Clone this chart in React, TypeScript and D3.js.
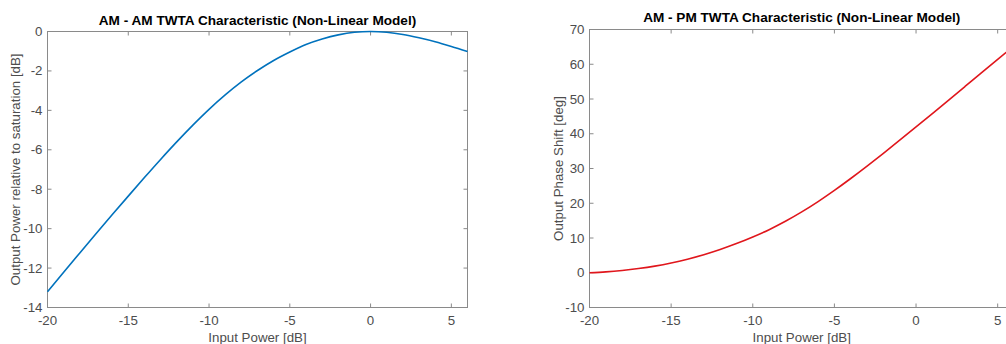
import React, { useEffect, useRef } from "react";
import * as d3 from "d3";

const inputPower = [-20, -19, -18, -17, -16, -15, -14, -13, -12, -11, -10, -9, -8, -7, -6, -5, -4, -3, -2, -1, 0, 1, 2, 3, 4, 5, 6];
const amamOutput = [-13.2, -12.21, -11.23, -10.26, -9.3, -8.35, -7.41, -6.49, -5.6, -4.75, -3.95, -3.22, -2.56, -1.98, -1.47, -1.04, -0.66, -0.38, -0.17, -0.04, 0, -0.04, -0.15, -0.32, -0.52, -0.76, -1.02];
const ampmPhase = [0, 0.25, 0.65, 1.2, 1.9, 2.8, 3.9, 5.2, 6.7, 8.4, 10.3, 12.4, 14.8, 17.5, 20.48, 23.7, 27.12, 30.69, 34.37, 38.13, 41.95, 45.81, 49.7, 53.61, 57.53, 61.43, 65.28];

const xTicks = [-20, -15, -10, -5, 0, 5];
const amamYTicks = [-14, -12, -10, -8, -6, -4, -2, 0];
const ampmYTicks = [-10, 0, 10, 20, 30, 40, 50, 60, 70];

const FONT = "'Liberation Sans', Arial, Helvetica, sans-serif";
const AXIS = "#8a8a8a";
const TEXT = "#4d4d4d";
const FS = 13.3;

type PanelCfg = {
  left: number; right: number; top: number; bottom: number;
  yDomain: [number, number]; yTicks: number[]; values: number[];
  color: string; title: string; titleY: number; yLabel: string; yLabelX: number;
};

function drawPanel(g: any, c: PanelCfg) {
  const x = d3.scaleLinear().domain([-20, 6]).range([c.left, c.right]);
  const y = d3.scaleLinear().domain(c.yDomain).range([c.bottom, c.top]);
  const tl = 4;

  g.append("rect").attr("x", c.left).attr("y", c.top)
    .attr("width", c.right - c.left).attr("height", c.bottom - c.top)
    .attr("fill", "white").attr("stroke", AXIS).attr("stroke-width", 1);

  xTicks.forEach(t => {
    const px = x(t);
    g.append("line").attr("x1", px).attr("x2", px).attr("y1", c.bottom).attr("y2", c.bottom - tl).attr("stroke", AXIS);
    g.append("line").attr("x1", px).attr("x2", px).attr("y1", c.top).attr("y2", c.top + tl).attr("stroke", AXIS);
    g.append("text").attr("x", px).attr("y", c.bottom + 17).attr("text-anchor", "middle")
      .attr("font-size", FS).attr("font-family", FONT).attr("fill", TEXT).text(String(t));
  });
  c.yTicks.forEach(t => {
    const py = y(t);
    g.append("line").attr("x1", c.left).attr("x2", c.left + tl).attr("y1", py).attr("y2", py).attr("stroke", AXIS);
    g.append("line").attr("x1", c.right).attr("x2", c.right - tl).attr("y1", py).attr("y2", py).attr("stroke", AXIS);
    g.append("text").attr("x", c.left - 5).attr("y", py + 4.5).attr("text-anchor", "end")
      .attr("font-size", FS).attr("font-family", FONT).attr("fill", TEXT).text(String(t));
  });

  const line = d3.line<number>().x((_, i) => x(inputPower[i])).y(d => y(d)).curve(d3.curveMonotoneX);
  g.append("path").attr("d", line(c.values) || "").attr("fill", "none")
    .attr("stroke", c.color).attr("stroke-width", 1.6);

  g.append("text").attr("x", (c.left + c.right) / 2).attr("y", c.titleY).attr("text-anchor", "middle")
    .attr("font-size", 13.6).attr("font-weight", "bold").attr("font-family", FONT).attr("fill", "#000")
    .text(c.title);
  g.append("text").attr("x", (c.left + c.right) / 2).attr("y", c.bottom + 34).attr("text-anchor", "middle")
    .attr("font-size", FS).attr("font-family", FONT).attr("fill", TEXT).text("Input Power [dB]");
  const cy = (c.top + c.bottom) / 2;
  g.append("text").attr("transform", `translate(${c.yLabelX},${cy}) rotate(-90)`).attr("text-anchor", "middle")
    .attr("font-size", FS).attr("font-family", FONT).attr("fill", TEXT).text(c.yLabel);
}

export default function App() {
  const ref = useRef<SVGSVGElement>(null);
  useEffect(() => {
    if (!ref.current) return;
    const svg = d3.select(ref.current);
    svg.selectAll("*").remove();
    drawPanel(svg.append("g"), {
      left: 47.5, right: 467.5, top: 31.5, bottom: 307.5, yDomain: [-14, 0], yTicks: amamYTicks,
      values: amamOutput, color: "#0072BD", title: "AM - AM TWTA Characteristic (Non-Linear Model)",
      titleY: 24.5, yLabel: "Output Power relative to saturation [dB]", yLabelX: 20,
    });
    drawPanel(svg.append("g"), {
      left: 589.5, right: 1014, top: 29.5, bottom: 307.5, yDomain: [-10, 70], yTicks: ampmYTicks,
      values: ampmPhase, color: "#e0161c", title: "AM - PM TWTA Characteristic (Non-Linear Model)",
      titleY: 22, yLabel: "Output Phase Shift [deg]", yLabelX: 563,
    });
  }, []);
  return (
    <svg ref={ref} width={1006} height={344}
      style={{ position: "absolute", left: 0, top: 0, background: "white", display: "block" }} />
  );
}
